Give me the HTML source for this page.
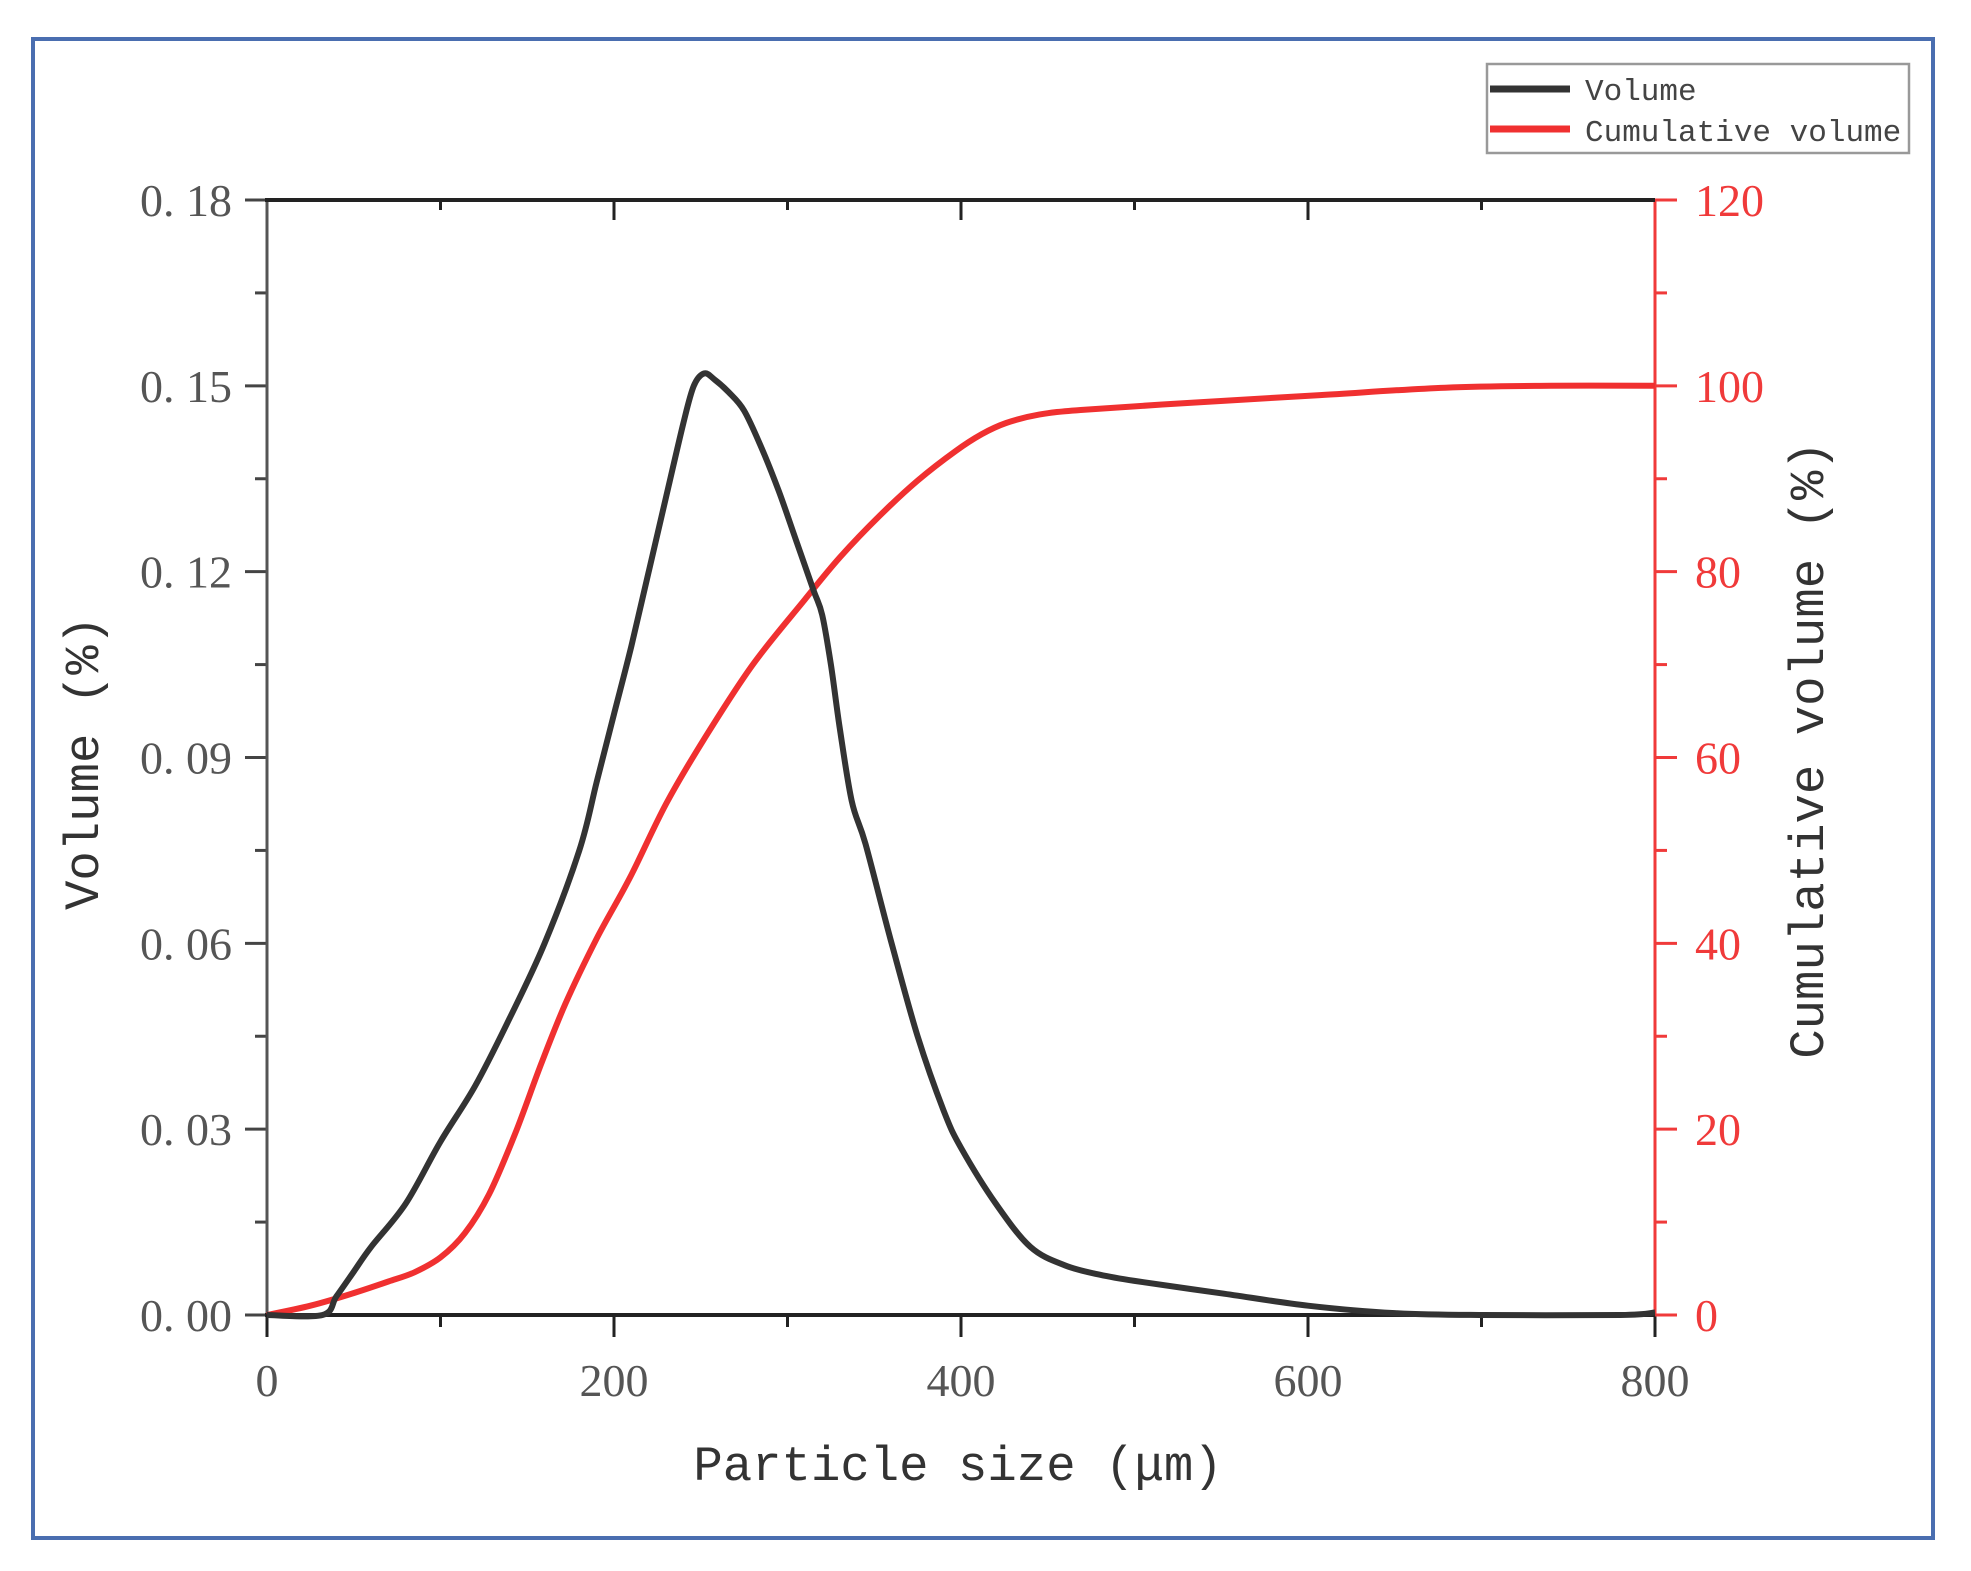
<!DOCTYPE html>
<html><head><meta charset="utf-8">
<style>
html,body{margin:0;padding:0;background:#fff;}
svg{display:block;}
.tk{font-family:"Liberation Serif",serif;font-size:46px;fill:#555;}
.tr{font-family:"Liberation Serif",serif;font-size:46px;fill:#f03a3a;}
.ti{font-family:"Liberation Mono",monospace;font-size:49px;fill:#333;}
.lg{font-family:"Liberation Mono",monospace;font-size:31px;fill:#444;}
</style></head>
<body>
<svg id="s" width="1971" height="1571" viewBox="0 0 1971 1571" xmlns="http://www.w3.org/2000/svg">
<rect width="1971" height="1571" fill="#fff"/>
<rect x="33" y="39" width="1900" height="1499" fill="none" stroke="#4a6eb0" stroke-width="4"/>
<rect x="1487" y="64" width="422" height="89" fill="#fff" stroke="#999" stroke-width="2.5"/>
<line x1="1490" y1="89" x2="1570" y2="89" stroke="#333" stroke-width="7"/>
<line x1="1490" y1="129" x2="1570" y2="129" stroke="#f03030" stroke-width="7"/>
<text class="lg" x="1585" y="100">Volume</text>
<text class="lg" x="1585" y="141">Cumulative volume</text>
<g id="ax"></g>
<path id="cum" fill="none" stroke="#f03030" stroke-width="6" stroke-linejoin="round"/>
<path id="vol" fill="none" stroke="#333" stroke-width="6" stroke-linejoin="round"/>
<text class="ti" x="958" y="1480" text-anchor="middle">Particle size (μm)</text>
<text class="ti" transform="translate(98,763) rotate(-90)" text-anchor="middle">Volume (%)</text>
<text class="ti" transform="translate(1823,750) rotate(-90)" text-anchor="middle">Cumulative volume (%)</text>
</svg>
<script>
var L=267,R=1655,T=200,B=1315;
function X(x){return L+x*(R-L)/800;}
function YV(v){return B-v*(B-T)/0.18;}
function YC(c){return B-c*(B-T)/120;}
var ax=document.getElementById('ax'),h='';
for(var i=0;i<=8;i++){var x=X(i*100),maj=i%2==0;
 h+='<line x1="'+x+'" y1="'+B+'" x2="'+x+'" y2="'+(B+(maj?22:12))+'" stroke="#222" stroke-width="3"/>';
 h+='<line x1="'+x+'" y1="'+T+'" x2="'+x+'" y2="'+(T+(maj?20:10))+'" stroke="#222" stroke-width="3"/>';
 if(maj)h+='<text class="tk" x="'+x+'" y="1396" text-anchor="middle">'+(i*100)+'</text>';}
for(var j=0;j<=12;j++){var y=B-j*(B-T)/12,maj=j%2==0;
 h+='<line x1="'+L+'" y1="'+y+'" x2="'+(L-(maj?22:12))+'" y2="'+y+'" stroke="#444" stroke-width="3"/>';
 h+='<line x1="'+R+'" y1="'+y+'" x2="'+(R+(maj?22:12))+'" y2="'+y+'" stroke="#f03a3a" stroke-width="3"/>';
 if(maj){var v=(j/2*0.03).toFixed(2).replace('.','. ');
  h+='<text class="tk" x="232" y="'+(y+16)+'" text-anchor="end">'+v+'</text>';
  h+='<text class="tr" x="1695" y="'+(y+16)+'">'+(j*10)+'</text>';}}
h+='<line x1="'+L+'" y1="'+T+'" x2="'+L+'" y2="'+B+'" stroke="#555" stroke-width="3"/>';
h+='<line x1="'+R+'" y1="'+T+'" x2="'+R+'" y2="'+B+'" stroke="#f03a3a" stroke-width="3"/>';
h+='<line x1="'+(L-2)+'" y1="'+T+'" x2="'+R+'" y2="'+T+'" stroke="#222" stroke-width="4"/>';
h+='<line x1="'+(L-2)+'" y1="'+B+'" x2="'+R+'" y2="'+B+'" stroke="#222" stroke-width="4"/>';
ax.innerHTML=h;
var vol=[[0,0],[32,0],[40,0.003],[50,0.007],[60,0.011],[80,0.018],[100,0.028],[120,0.037],[140,0.048],[160,0.060],[180,0.075],[190,0.086],[200,0.097],[210,0.108],[220,0.120],[230,0.132],[240,0.144],[246,0.150],[252,0.152],[258,0.151],[266,0.149],[275,0.146],[285,0.140],[295,0.133],[305,0.125],[315,0.117],[320,0.113],[325,0.105],[330,0.095],[337,0.083],[345,0.076],[360,0.060],[375,0.045],[390,0.033],[400,0.027],[420,0.018],[440,0.011],[460,0.008],[480,0.0065],[500,0.0055],[550,0.0035],[600,0.0015],[650,0.0003],[700,0],[780,0],[800,0.0004]];
var cum=[[0,0],[25,1],[49,2.3],[70,3.6],[85,4.6],[100,6.2],[114,8.8],[128,13],[143,19.5],[158,27],[172,33.5],[190,40.5],[209,47],[230,55],[252,62],[280,70],[310,77],[330,81.5],[353,86],[375,89.8],[397,93],[412,94.8],[426,96],[445,96.9],[469,97.4],[534,98.2],[607,99],[679,99.8],[740,100],[800,100]];
function path(d,fy){var p=d.map(function(a){return [X(a[0]),fy(a[1])];});var s='M'+p[0][0]+' '+p[0][1];
 for(var k=0;k<p.length-1;k++){var p0=p[k-1]||p[k],p1=p[k],p2=p[k+1],p3=p[k+2]||p2;
  s+='C'+(p1[0]+(p2[0]-p0[0])/6).toFixed(1)+' '+(p1[1]+(p2[1]-p0[1])/6).toFixed(1)+' '+(p2[0]-(p3[0]-p1[0])/6).toFixed(1)+' '+(p2[1]-(p3[1]-p1[1])/6).toFixed(1)+' '+p2[0].toFixed(1)+' '+p2[1].toFixed(1);}
 return s;}
document.getElementById('vol').setAttribute('d',path(vol,YV));
document.getElementById('cum').setAttribute('d',path(cum,YC));
</script>
</body></html>
